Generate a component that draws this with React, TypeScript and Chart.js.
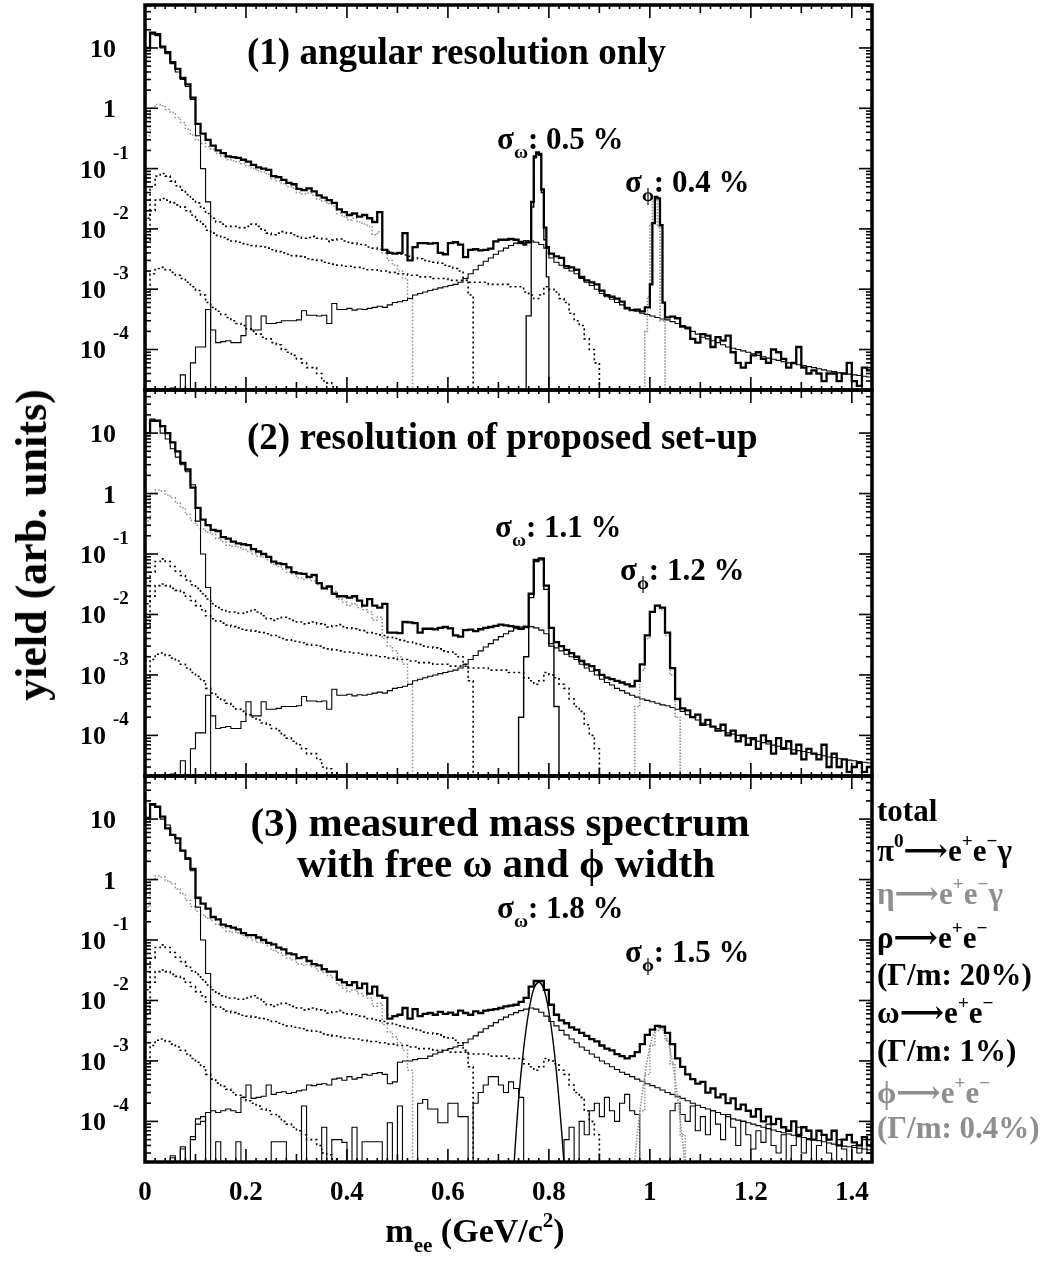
import React, { useEffect, useRef } from 'react';
import { Chart, registerables } from 'chart.js';

Chart.register(...registerables);

// ---------------------------------------------------------------------------
// Data: dielectron invariant-mass histograms. Standard bins are 10 MeV wide,
// narrow peak regions use 5 MeV bins. A value of 0 marks an empty bin.
// ---------------------------------------------------------------------------
const BIN = 0.01;
const FINE = 0.005;
const X_MAX = 1.44;
const Y_MIN = 2.13e-5;
const Y_MAX = 51.6;

const xTickValues = [0, 0.2, 0.4, 0.6, 0.8, 1, 1.2, 1.4];
const xTickLabels = ['0', '0.2', '0.4', '0.6', '0.8', '1', '1.2', '1.4'];
const yTickExponents = [1, 0, -1, -2, -3, -4];

// Dalitz contributions shared by the three resolution scenarios
const piDalitz = [9, 17, 16, 10, 8, 5.5, 4, 3, 2.3, 1.4, 0.35, 0.1, 0.028];

const etaDalitz = [
  0.35, 1.0, 1.15, 1.1, 0.95, 0.85, 0.7, 0.58, 0.45, 0.36,
  0.3, 0.26, 0.23, 0.21, 0.18, 0.16, 0.14, 0.135, 0.13, 0.12,
  0.11, 0.1, 0.092, 0.088, 0.08, 0.068, 0.062, 0.056, 0.05, 0.047,
  0.04, 0.038, 0.039, 0.036, 0.031, 0.029, 0.026, 0.024, 0.018, 0.016,
  0.014, 0.015, 0.013, 0.012, 0.011, 0.008, 0.009, 0.004, 0.003, 0.0025,
  0.002, 0.0015, 0.0007,
];

const omegaDalitz = [
  0.015, 0.05, 0.075, 0.083, 0.075, 0.062, 0.052, 0.044, 0.037, 0.031,
  0.027, 0.022, 0.018, 0.015, 0.013, 0.012, 0.011, 0.011, 0.0105, 0.0105,
  0.011, 0.012, 0.011, 0.0095, 0.0085, 0.008, 0.0085, 0.009, 0.0085, 0.008,
  0.0075, 0.007, 0.0072, 0.0075, 0.007, 0.0068, 0.0062, 0.0065, 0.0068, 0.0063,
  0.006, 0.0058, 0.0055, 0.0054, 0.005, 0.0048, 0.0046, 0.0045, 0.0042, 0.004,
  0.0038, 0.0037, 0.0035, 0.0033, 0.0032, 0.003, 0.0029, 0.0028, 0.0027, 0.0025,
  0.0024, 0.0022, 0.002, 0.0015, 0.0008,
];

const etaPrimeDalitz = [
  0.006, 0.02, 0.03, 0.032, 0.03, 0.027, 0.025, 0.023, 0.02, 0.017,
  0.014, 0.012, 0.0095, 0.0085, 0.0078, 0.0072, 0.0067, 0.0063, 0.006, 0.0057,
  0.0055, 0.0053, 0.0051, 0.005, 0.0048, 0.0045, 0.0042, 0.004, 0.0038, 0.0036,
  0.0035, 0.0034, 0.0032, 0.0031, 0.003, 0.0028, 0.0027, 0.0026, 0.0025, 0.0024,
  0.0024, 0.0023, 0.0023, 0.0022, 0.0021, 0.0021, 0.002, 0.002, 0.0019, 0.0019,
  0.0018, 0.0018, 0.0017, 0.0017, 0.0016, 0.0016, 0.0016, 0.0015, 0.0015, 0.0015,
  0.0014, 0.0014, 0.0014, 0.0014, 0.0013, 0.0013, 0.0013, 0.0013, 0.0012, 0.0012,
  0.0012, 0.0012, 0.0011, 0.0011, 0.0011, 0.0009, 0.0008, 0.0007, 0.0008, 0.0011,
  0.001, 0.0009, 0.0007, 0.0006, 0.0004, 0.0003, 0.00025, 0.00015, 0.0001, 0.00006,
];

const softDalitz = [
  0.0008, 0.0018, 0.0022, 0.0023, 0.0021, 0.0019, 0.0017, 0.0015, 0.0013, 0.0011,
  0.00095, 0.0008, 0.0006, 0.0005, 0.00043, 0.00038, 0.00034, 0.0003, 0.00027, 0.00025,
  0.00022, 0.0002, 0.00018, 0.00016, 0.00015, 0.00013, 0.00012, 0.0001, 0.00009, 0.00008,
  0.00007, 0.00006, 0.00005, 0.00005, 0.00004, 0.00003, 0.000028, 0.000024,
];

// rho -> e+e- (Gamma/m = 20%), from 0.05 GeV on
const RHO_FROM = 0.05;
const rhoSmeared = [
  2.3e-5, 0, 3.8e-5, 0, 6e-5,
  1.1e-4, 1.1e-4, 4.6e-4, 2.1e-4, 1.3e-4, 1.35e-4, 1.4e-4, 1.3e-4, 1.3e-4, 1.7e-4,
  3.6e-4, 2.1e-4, 2.1e-4, 3.6e-4, 2.7e-4, 2.7e-4, 2.8e-4, 3e-4, 3e-4, 3e-4,
  3.1e-4, 4.4e-4, 3.7e-4, 3.7e-4, 3.6e-4, 3.7e-4, 2.7e-4, 5.8e-4, 4.6e-4, 4.6e-4,
  4.8e-4, 4.5e-4, 4.7e-4, 4.6e-4, 4.8e-4, 5e-4, 5.2e-4, 5e-4, 5.5e-4, 6e-4,
  6.2e-4, 6.5e-4, 7e-4, 8e-4, 8.5e-4, 9e-4, 9.5e-4, 1e-3, 1.05e-3, 1.1e-3,
  1.15e-3, 1.2e-3, 1.3e-3, 1.5e-3, 1.8e-3, 2.1e-3, 2.5e-3, 2.9e-3, 3.3e-3, 3.8e-3,
  4.3e-3, 4.8e-3, 5.3e-3, 5.8e-3, 6.2e-3, 6.4e-3, 6.3e-3, 6e-3, 5.5e-3, 4.8e-3,
  3.3e-3, 2.8e-3, 2.5e-3, 2.2e-3, 2e-3, 1.8e-3, 1.5e-3, 1.3e-3, 1.15e-3, 1e-3,
  8.5e-4, 7.5e-4, 6.8e-4, 6e-4, 5.5e-4, 5e-4, 4.6e-4, 4.3e-4, 4e-4, 3.8e-4,
  3.6e-4, 3.4e-4, 3.2e-4, 3.1e-4, 2.9e-4, 2.7e-4, 2.5e-4, 2.2e-4, 2e-4, 1.8e-4,
  1.6e-4, 1.5e-4, 1.4e-4, 1.3e-4, 1.2e-4, 1.1e-4, 1.05e-4, 1e-4, 9.5e-5, 9e-5,
  8.5e-5, 8e-5, 7.6e-5, 7.2e-5, 6.9e-5, 6.6e-5, 6.3e-5, 6e-5, 5.8e-5, 5.6e-5,
  5.4e-5, 5.2e-5, 5e-5, 4.8e-5, 4.6e-5, 4.4e-5, 4.3e-5, 4.1e-5, 4e-5, 3.9e-5,
  3.8e-5, 3.7e-5, 3.6e-5, 3.5e-5,
];

const rhoMeasured = [
  2.5e-5, 0, 3.5e-5, 0, 5e-5,
  9e-5, 1e-4, 1.4e-4, 1.5e-4, 1.4e-4, 1.5e-4, 1.6e-4, 1.5e-4, 1.4e-4, 2.5e-4,
  4e-4, 2.4e-4, 2.5e-4, 2.6e-4, 4e-4, 2.8e-4, 3e-4, 3.1e-4, 2.9e-4, 3e-4,
  3.2e-4, 3.3e-4, 4e-4, 3.9e-4, 4.1e-4, 4.2e-4, 4e-4, 5e-4, 5.2e-4, 4.8e-4,
  5.5e-4, 5e-4, 5.3e-4, 6e-4, 5.8e-4, 6.2e-4, 6.4e-4, 6e-4, 4.2e-4, 4.5e-4,
  9.5e-4, 1e-3, 1e-3, 1.05e-3, 1.1e-3, 1.1e-3, 1.2e-3, 1.3e-3, 1.4e-3, 1.5e-3,
  1.6e-3, 1.7e-3, 1.8e-3, 2e-3, 2.3e-3, 2.6e-3, 3e-3, 3.4e-3, 3.8e-3, 4.3e-3,
  4.8e-3, 5.3e-3, 5.8e-3, 6.3e-3, 6.8e-3, 7.2e-3, 7.5e-3, 7.2e-3, 6.4e-3, 5.5e-3,
  4.5e-3, 3.8e-3, 3.2e-3, 2.7e-3, 2.3e-3, 2e-3, 1.7e-3, 1.5e-3, 1.3e-3, 1.15e-3,
  1e-3, 9e-4, 8e-4, 7.2e-4, 6.5e-4, 6e-4, 5.5e-4, 5e-4, 4.6e-4, 4.2e-4,
  3.9e-4, 3.6e-4, 3.3e-4, 3e-4, 2.8e-4, 2.6e-4, 2.4e-4, 2.2e-4, 2e-4, 1.85e-4,
  1.7e-4, 1.6e-4, 1.5e-4, 1.4e-4, 1.3e-4, 1.2e-4, 1.1e-4, 1.05e-4, 1e-4, 9.5e-5,
  9e-5, 8.5e-5, 8e-5, 7.6e-5, 7.2e-5, 6.8e-5, 6.5e-5, 6.2e-5, 5.9e-5, 5.6e-5,
  5.4e-5, 5.2e-5, 5e-5, 4.8e-5, 4.6e-5, 4.4e-5, 4.2e-5, 4e-5, 3.9e-5, 3.8e-5,
  3.7e-5, 3.6e-5, 3.5e-5, 3.4e-5,
];

// (1) angular resolution only: total in pieces around the narrow peaks
const total1Low = [
  10, 18, 17, 10.5, 8.5, 5.8, 4.5, 3.2, 2.5, 1.5,
  0.55, 0.38, 0.3, 0.24, 0.2, 0.18, 0.16, 0.155, 0.15, 0.14,
  0.13, 0.115, 0.105, 0.1, 0.095, 0.075, 0.072, 0.065, 0.058, 0.055,
  0.046, 0.044, 0.047, 0.042, 0.036, 0.033, 0.03, 0.027, 0.021, 0.019,
  0.017, 0.018, 0.016, 0.017, 0.015, 0.013, 0.019, 0.0045, 0.004, 0.0039,
  0.004, 0.0085, 0.003, 0.005, 0.0058, 0.0058, 0.0057, 0.0058, 0.004, 0.0038,
  0.0058, 0.006, 0.0055, 0.0034, 0.0045, 0.0046, 0.0044, 0.0045, 0.0047, 0.0062,
  0.0066, 0.0066, 0.0068, 0.0066, 0.0058,
]; // 0 - 0.75
const total1Omega = [0.0055, 0.006, 0.006, 0.028, 0.16, 0.185, 0.175, 0.045, 0.0105, 0.005]; // 0.75 - 0.80
const total1Mid = [
  0.0039, 0.0035, 0.0033, 0.0024, 0.0023, 0.0021, 0.0016, 0.0014, 0.0013, 0.0012,
  0.00095, 0.0008, 0.00075, 0.0007, 0.00062, 0.00048, 0.00045, 0.00046, 0.00043, 0.0005,
]; // 0.80 - 1.00
const total1Phi = [0.0012, 0.0125, 0.034, 0.032, 0.0115, 0.0006]; // 1.00 - 1.03
const total1High = [
  0.00034, 0.00035, 0.00033, 0.00024, 0.00023, 0.00015, 0.00013,
  0.00018, 0.00017, 0.00011, 0.00016, 0.00014, 0.00017, 0.00009, 0.00006, 0.00005, 0.00006,
  0.00008, 0.00009, 0.00007, 0.00006, 0.0001, 0.00009, 0.00007, 0.00005, 0.00006, 0.00011,
  0.00005, 0.00004, 0.000045, 0.00004, 0.00003, 0.00004, 0.00004, 0.00003, 0.00004, 0.00006,
  0.00003, 0.000025, 0.00005, 0.000045,
]; // 1.03 - 1.44
const OMEGA1_FROM = 0.755;
const omega1 = [3.6e-4, 3.6e-4, 0.023, 0.15, 0.175, 0.165, 0.04, 0.0066, 0.0016];
const PHI1_FROM = 0.99;
const phi1 = [2e-4, 7.5e-4, 0.012, 0.033, 0.031, 0.011, 3e-4, 3e-4];

// (2) resolution of proposed set-up
const total2 = [
  10, 16, 16, 13, 10, 7, 5, 3.2, 2.5, 1.25,
  0.58, 0.37, 0.3, 0.25, 0.24, 0.19, 0.18, 0.16, 0.15, 0.145,
  0.14, 0.12, 0.11, 0.1, 0.09, 0.075, 0.07, 0.068, 0.06, 0.05,
  0.048, 0.047, 0.042, 0.045, 0.033, 0.027, 0.029, 0.022, 0.02, 0.02,
  0.019, 0.02, 0.017, 0.014, 0.018, 0.014, 0.013, 0.015, 0.005, 0.005,
  0.0049, 0.0075, 0.0074, 0.0072, 0.005, 0.0058, 0.0058, 0.0057, 0.006, 0.0062,
  0.0059, 0.0045, 0.0043, 0.0055, 0.0056, 0.0053, 0.0057, 0.006, 0.0062, 0.0065,
  0.0068, 0.0066, 0.0064, 0.0062, 0.0058, 0.0062, 0.022, 0.08, 0.085, 0.03,
  0.006, 0.0035, 0.003, 0.0026, 0.0023, 0.002, 0.0017, 0.0015, 0.0014, 0.0012,
  0.001, 0.0009, 0.00085, 0.0008, 0.00075, 0.0007, 0.00065, 0.0008, 0.0015, 0.0045,
  0.011, 0.014, 0.013, 0.005, 0.0013, 0.0004, 0.00028, 0.00026, 0.0002, 0.00022,
  0.00015, 0.00018, 0.00014, 0.00012, 0.00015, 0.0001, 0.00012, 0.00008, 0.0001, 0.00007,
  0.00009, 0.00006, 0.0001, 0.00008, 0.00005, 0.00009, 0.00006, 0.00008, 0.00005, 0.00007,
  0.00004, 0.00006, 0.00005, 0.00004, 0.00007, 0.00003, 0.00005, 0.00003, 0.00004, 0.000025,
  0.00003, 0.000035, 0.000025, 0.00003,
];
const OMEGA2_FROM = 0.74;
const omega2 = [2e-4, 2e-3, 0.019, 0.075, 0.08, 0.026, 3e-3, 3e-4];
const PHI2_FROM = 0.97;
const phi2 = [3e-4, 1.2e-3, 4e-3, 0.011, 0.014, 0.012, 4.5e-3, 1e-3, 2e-4];

// (3) measured mass spectrum with free omega and phi width
const total3 = [
  10.5, 17.6, 16, 11, 7, 5.5, 4.8, 3, 2.2, 1.5,
  0.5, 0.4, 0.33, 0.24, 0.22, 0.18, 0.17, 0.16, 0.15, 0.13,
  0.12, 0.12, 0.11, 0.1, 0.09, 0.085, 0.075, 0.07, 0.06, 0.058,
  0.05, 0.052, 0.045, 0.04, 0.038, 0.033, 0.03, 0.03, 0.022, 0.02,
  0.018, 0.02, 0.016, 0.019, 0.013, 0.017, 0.012, 0.011, 0.005, 0.0055,
  0.0058, 0.0075, 0.005, 0.0072, 0.0055, 0.006, 0.0062, 0.0058, 0.0065, 0.006,
  0.0063, 0.0058, 0.0068, 0.0062, 0.0058, 0.0066, 0.0062, 0.0068, 0.007, 0.0072,
  0.0075, 0.008, 0.0082, 0.0085, 0.0095, 0.011, 0.017, 0.021, 0.021, 0.015,
  0.0085, 0.0058, 0.0047, 0.0042, 0.0036, 0.0033, 0.0029, 0.0026, 0.0023, 0.0021,
  0.0018, 0.0016, 0.0015, 0.0013, 0.0012, 0.0011, 0.0012, 0.0014, 0.0019, 0.0027,
  0.0033, 0.0038, 0.0037, 0.0029, 0.0019, 0.0011, 0.0008, 0.0006, 0.0005, 0.00042,
  0.00045, 0.0003, 0.00035, 0.00025, 0.00028, 0.0002, 0.00024, 0.00016, 0.00019, 0.00015,
  0.00012, 0.00016, 0.0001, 0.00012, 0.00009, 0.00011, 0.00008, 0.00007, 0.0001, 0.00006,
  0.00008, 0.00007, 0.00005, 0.00007, 0.00006, 0.00005, 0.00007, 0.00004, 0.00005, 0.00006,
  0.000045, 0.00004, 0.000055, 0.00004,
];
const PHI3_FROM = 0.98;
const phi3 = [1.5e-4, 6e-4, 1.8e-3, 3.2e-3, 3.4e-3, 2.2e-3, 9e-4, 2.5e-4, 6e-5];
const RESIDUAL3_FROM = 0.05;
const residual3 = [
  2.7e-5, 0, 3.8e-5, 0, 5.6e-5,
  1.1e-4, 1.2e-4, 0, 0, 4.6e-5, 0, 0, 0, 4.6e-5, 0,
  0, 0, 0, 0, 0, 4.6e-5, 4.6e-5, 4.6e-5, 0, 0,
  0, 1.8e-4, 0, 0, 0, 8e-5, 0, 5e-5, 5e-5, 4.5e-5,
  0, 8e-5, 0, 4.6e-5, 4.6e-5, 4.6e-5, 4.6e-5, 0, 9.5e-5, 0,
  1.8e-4, 0, 0, 0, 2e-4, 2.3e-4, 1.6e-4, 1.6e-4, 9.5e-5, 9.5e-5,
  2e-4, 2e-4, 1.2e-4, 1.2e-4, 0, 2e-4, 3e-4, 4e-4, 5.5e-4, 5.5e-4,
  4e-4, 3e-4, 4.5e-4, 3.5e-4, 2.5e-4, 0, 0, 0, 0, 0,
  0, 0, 0, 5e-5, 8e-5, 0, 1e-4, 6e-5, 1.5e-4, 2e-4,
  1.2e-4, 2.5e-4, 1.5e-4, 1e-4, 2e-4, 2.8e-4, 1.5e-4, 1.3e-4, 0, 0,
  0, 0, 0, 0, 1.5e-4, 2e-4, 1.3e-4, 1e-4, 1.8e-4, 7e-5,
  1.2e-4, 6e-5, 1.5e-4, 9e-5, 5e-5, 1.3e-4, 8e-5, 4e-5, 1e-4, 6e-5,
  3.5e-5, 7e-5, 4.5e-5, 9e-5, 4e-5, 3e-5, 6e-5, 0, 4e-5, 8e-5,
  3e-5, 5e-5, 0, 4e-5, 6e-5, 3e-5, 0, 5e-5, 3.5e-5, 0,
  4e-5, 3e-5, 5e-5, 3e-5,
];
// fitted line shapes (mass, yield)
const omegaFitMass = [0.73, 0.74, 0.75, 0.76, 0.77, 0.78, 0.79, 0.8, 0.81, 0.82, 0.83, 0.835];
const omegaFitYield = [1.5e-5, 2.3e-4, 1.6e-3, 6.5e-3, 0.0155, 0.02, 0.0155, 6.5e-3, 1.6e-3, 2.3e-4, 2e-5, 4e-6];
const phiFitMass = [0.97, 0.98, 0.99, 1.0, 1.01, 1.02, 1.03, 1.04, 1.05, 1.06, 1.07];
const phiFitYield = [2.3e-5, 1.4e-4, 5.8e-4, 1.7e-3, 3.1e-3, 3.6e-3, 2.8e-3, 1.5e-3, 5e-4, 1.1e-4, 1.7e-5];

// ---------------------------------------------------------------------------
// Layout and styling
// ---------------------------------------------------------------------------
const W = 1059;
const H = 1263;
const PLOT_LEFT = 145;
const PLOT_RIGHT = 872;
const PANEL_EDGES = [5, 390, 776, 1162];
const FONT = '"Liberation Serif", "Times New Roman", "DejaVu Serif", "DejaVu Sans", serif';
const GREY = '#8e8e8e';
const FLOOR = 1e-8;

type Pt = { x: number; y: number };
type Piece = { from: number; width: number; values: number[] };

// Outline of a histogram made of consecutive pieces, closed down to the floor at both ends
function histPts(pieces: Piece[]): Pt[] {
  const pts: Pt[] = [{ x: pieces[0].from, y: FLOOR }];
  let endX = pieces[0].from;
  let endV = FLOOR;
  pieces.forEach((p) => {
    p.values.forEach((v, k) => {
      const y = v > 0 ? v : FLOOR;
      pts.push({ x: p.from + k * p.width, y });
      endV = y;
    });
    endX = p.from + p.values.length * p.width;
  });
  pts.push({ x: endX, y: endV });
  pts.push({ x: endX, y: FLOOR });
  return pts;
}
const hist = (from: number, values: number[], width = BIN) => histPts([{ from, width, values }]);

function curve(xs: number[], ys: number[]): Pt[] {
  return xs.map((x, i) => ({ x, y: ys[i] }));
}

const solid = (w: number, color = '#000') => ({ borderColor: color, borderWidth: w, stepped: true as const });
const dotted = (w: number, color = '#000', dash = [2, 3]) => ({ borderColor: color, borderWidth: w, borderDash: dash, stepped: true as const });

function sharedLowMass() {
  return [
    { data: hist(0, piDalitz), ...solid(1.1) },
    { data: hist(0, etaDalitz), ...dotted(1.5, GREY, [1.5, 2]) },
    { data: hist(0, omegaDalitz), ...dotted(1.6) },
    { data: hist(0, etaPrimeDalitz), ...dotted(1.6) },
    { data: hist(0, softDalitz), ...dotted(1.6) },
  ];
}

const total1Pts = histPts([
  { from: 0, width: BIN, values: total1Low },
  { from: 0.75, width: FINE, values: total1Omega },
  { from: 0.8, width: BIN, values: total1Mid },
  { from: 1.0, width: FINE, values: total1Phi },
  { from: 1.03, width: BIN, values: total1High },
]);

const panelDatasets = [
  [
    { data: total1Pts, ...solid(2.3) },
    { data: hist(OMEGA1_FROM, omega1, FINE), ...solid(1.3) },
    { data: hist(PHI1_FROM, phi1, FINE), ...dotted(1.6, GREY, [1.5, 1.5]) },
    { data: hist(RHO_FROM, rhoSmeared), ...solid(1.1) },
    ...sharedLowMass(),
  ],
  [
    { data: hist(0, total2), ...solid(2.3) },
    { data: hist(OMEGA2_FROM, omega2), ...solid(1.4) },
    { data: hist(PHI2_FROM, phi2), ...dotted(1.6, GREY, [1.5, 1.5]) },
    { data: hist(RHO_FROM, rhoSmeared), ...solid(1.1) },
    ...sharedLowMass(),
  ],
  [
    { data: hist(0, total3), ...solid(2.3) },
    { data: curve(omegaFitMass, omegaFitYield), borderColor: '#000', borderWidth: 1.4, stepped: false, tension: 0.35 },
    { data: curve(phiFitMass, phiFitYield), borderColor: GREY, borderWidth: 1.6, borderDash: [1.5, 1.5], stepped: false, tension: 0.35 },
    { data: hist(PHI3_FROM, phi3), ...dotted(1.4, GREY, [1.5, 1.5]) },
    { data: hist(RHO_FROM, rhoMeasured), ...solid(1.1) },
    { data: hist(RESIDUAL3_FROM, residual3), ...solid(1.1) },
    ...sharedLowMass(),
  ],
];

// Frame, inward ticks and tick labels drawn from the chart's own scales
const decorPlugin = {
  id: 'decor',
  afterDatasetsDraw(chart: any, _args: any, opts: any) {
    const { ctx, chartArea: a } = chart;
    const xs = chart.scales.x;
    const ys = chart.scales.y;
    const seg = (x1: number, y1: number, x2: number, y2: number) => {
      ctx.beginPath();
      ctx.moveTo(x1, y1);
      ctx.lineTo(x2, y2);
      ctx.stroke();
    };
    ctx.save();
    ctx.strokeStyle = '#000';
    ctx.fillStyle = '#000';
    ctx.lineWidth = 1.6;
    for (let k = 0; k <= 72; k++) {
      const px = xs.getPixelForValue(k * 0.02);
      const len = k % 10 === 0 ? 13 : k % 5 === 0 ? 8 : 4;
      seg(px, a.bottom, px, a.bottom - len);
      seg(px, a.top, px, a.top + len);
    }
    for (let e = -6; e <= 2; e++) {
      for (let m = 1; m <= 9; m++) {
        const v = m * Math.pow(10, e);
        if (v < ys.min || v > ys.max) continue;
        const py = ys.getPixelForValue(v);
        const len = m === 1 ? 13 : 6;
        seg(a.left, py, a.left + len, py);
        seg(a.right, py, a.right - len, py);
      }
    }
    ctx.lineWidth = 3.5;
    ctx.strokeRect(a.left, a.top, a.right - a.left, a.bottom - a.top);

    // y tick labels: 10, 1, 10^-1 ... 10^-4
    ctx.textBaseline = 'alphabetic';
    yTickExponents.forEach((n) => {
      const py = ys.getPixelForValue(Math.pow(10, n));
      ctx.font = `bold 26px ${FONT}`;
      if (n >= 0) {
        ctx.textAlign = 'right';
        ctx.fillText(n === 0 ? '1' : '10', a.left - 29, py + 9);
      } else {
        ctx.textAlign = 'right';
        ctx.fillText('10', a.left - 39, py + 9);
        ctx.textAlign = 'left';
        ctx.font = `bold 19px ${FONT}`;
        ctx.fillText(String(n), a.left - 32, py - 10);
      }
    });

    if (opts && opts.xLabels) {
      ctx.font = `bold 27px ${FONT}`;
      ctx.textAlign = 'center';
      xTickValues.forEach((v, i) => {
        ctx.fillText(xTickLabels[i], xs.getPixelForValue(v), a.bottom + 38);
      });
    }
    ctx.restore();
  },
};

function makeChart(canvas: HTMLCanvasElement, index: number) {
  const top = PANEL_EDGES[index];
  const bottom = PANEL_EDGES[index + 1];
  return new Chart(canvas, {
    type: 'line',
    data: { datasets: panelDatasets[index] as any },
    options: {
      animation: false,
      responsive: false,
      devicePixelRatio: 1,
      events: [],
      parsing: false,
      layout: { padding: { left: PLOT_LEFT, right: W - PLOT_RIGHT, top, bottom: H - bottom } },
      elements: { point: { radius: 0 }, line: { tension: 0 } },
      scales: {
        x: { type: 'linear', min: 0, max: X_MAX, display: false },
        y: { type: 'logarithmic', min: Y_MIN, max: Y_MAX, display: false },
      },
      plugins: {
        legend: { display: false },
        tooltip: { enabled: false },
        decor: { xLabels: index === 2 },
      } as any,
    },
    plugins: [decorPlugin],
  });
}

// ---------------------------------------------------------------------------
// Text helpers
// ---------------------------------------------------------------------------
function Txt(props: { x: number; base: number; size: number; color?: string; center?: boolean; children: React.ReactNode }) {
  const { x, base, size, color = '#000', center = false, children } = props;
  return (
    <div
      style={{
        position: 'absolute',
        left: x,
        top: base - 0.84 * size,
        fontFamily: FONT,
        fontWeight: 'bold',
        fontSize: size,
        lineHeight: `${size}px`,
        whiteSpace: 'nowrap',
        color,
        transform: center ? 'translateX(-50%)' : undefined,
      }}
    >
      {children}
    </div>
  );
}
const Sub = ({ children }: { children: React.ReactNode }) => (
  <span style={{ fontSize: '0.62em', position: 'relative', top: '0.45em' }}>{children}</span>
);
const Sup = ({ children }: { children: React.ReactNode }) => (
  <span style={{ fontSize: '0.62em', position: 'relative', top: '-0.75em' }}>{children}</span>
);

export default function App() {
  const c1 = useRef<HTMLCanvasElement>(null);
  const c2 = useRef<HTMLCanvasElement>(null);
  const c3 = useRef<HTMLCanvasElement>(null);

  useEffect(() => {
    const canvases = [c1.current, c2.current, c3.current];
    const charts = canvases.map((c, i) => makeChart(c as HTMLCanvasElement, i));
    return () => charts.forEach((ch) => ch.destroy());
  }, []);

  const canvasStyle: React.CSSProperties = { position: 'absolute', left: 0, top: 0, width: W, height: H };

  return (
    <div style={{ position: 'absolute', left: 0, top: 0, width: W, height: H, background: '#fff', overflow: 'hidden' }}>
      <canvas ref={c1} width={W} height={H} style={canvasStyle} />
      <canvas ref={c2} width={W} height={H} style={canvasStyle} />
      <canvas ref={c3} width={W} height={H} style={canvasStyle} />

      <Txt x={247} base={64} size={37}>(1) angular resolution only</Txt>
      <Txt x={247} base={449} size={37}>(2) resolution of proposed set-up</Txt>
      <Txt x={500} base={836} size={41} center>(3) measured mass spectrum</Txt>
      <Txt x={506} base={877} size={41} center>with free ω and ϕ width</Txt>

      <Txt x={497} base={149} size={31}>σ<Sub>ω</Sub>: 0.5 %</Txt>
      <Txt x={625} base={192} size={31}>σ<Sub>ϕ</Sub>: 0.4 %</Txt>
      <Txt x={495} base={537} size={31}>σ<Sub>ω</Sub>: 1.1 %</Txt>
      <Txt x={620} base={580} size={31}>σ<Sub>ϕ</Sub>: 1.2 %</Txt>
      <Txt x={497} base={918} size={31}>σ<Sub>ω</Sub>: 1.8 %</Txt>
      <Txt x={625} base={962} size={31}>σ<Sub>ϕ</Sub>: 1.5 %</Txt>

      <Txt x={877} base={821} size={31}>total</Txt>
      <Txt x={877} base={861} size={31}>π<Sup>0</Sup>⟶e<Sup>+</Sup>e<Sup>−</Sup>γ</Txt>
      <Txt x={877} base={904} size={31} color={GREY}>η⟶e<Sup>+</Sup>e<Sup>−</Sup>γ</Txt>
      <Txt x={877} base={948} size={31}>ρ⟶e<Sup>+</Sup>e<Sup>−</Sup></Txt>
      <Txt x={877} base={985} size={31}>(Γ/m: 20%)</Txt>
      <Txt x={877} base={1023} size={31}>ω⟶e<Sup>+</Sup>e<Sup>−</Sup></Txt>
      <Txt x={877} base={1061} size={31}>(Γ/m: 1%)</Txt>
      <Txt x={877} base={1103} size={31} color={GREY}>ϕ⟶e<Sup>+</Sup>e<Sup>−</Sup></Txt>
      <Txt x={877} base={1138} size={31} color={GREY}>(Γ/m: 0.4%)</Txt>

      <Txt x={475} base={1243} size={34} center>
        m<Sub>ee</Sub> (GeV/c<Sup>2</Sup>)
      </Txt>
      <div
        style={{
          position: 'absolute',
          left: 32,
          top: 545,
          transform: 'translate(-50%, -50%) rotate(-90deg)',
          fontFamily: FONT,
          fontWeight: 'bold',
          fontSize: 44,
          lineHeight: '44px',
          whiteSpace: 'nowrap',
        }}
      >
        yield (arb. units)
      </div>
    </div>
  );
}
